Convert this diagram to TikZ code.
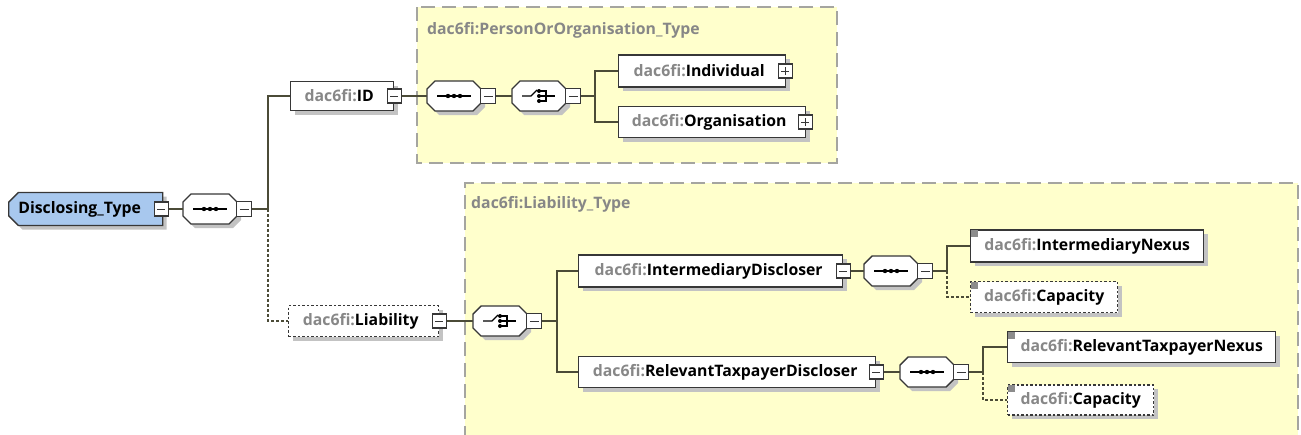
\documentclass[tikz,border=0pt]{standalone}
\usepackage{fontspec}
\setmainfont{Open Sans}
\usetikzlibrary{shapes.misc,shadows}
\definecolor{bordc}{RGB}{55,55,55}
\definecolor{connc}{RGB}{75,75,55}
\definecolor{prefc}{RGB}{135,135,135}
\definecolor{yelc}{RGB}{255,255,204}
\definecolor{ybordc}{RGB}{165,165,160}
\definecolor{bluec}{RGB}{168,200,238}
\definecolor{shadc}{RGB}{195,195,195}
\definecolor{iconc}{RGB}{140,140,140}
\newcommand\pfx{\color{prefc}}
\newcommand\nme{\color{black}}
\tikzset{
  shad/.style={drop shadow={shadow xshift=4pt,shadow yshift=-4pt,fill=shadc,opacity=1}},
  elem/.style={draw=bordc,fill=white,line width=1.4pt,minimum height=31,inner sep=0,anchor=west,shad},
  optelem/.style={elem,dash pattern=on 2.5pt off 2pt},
  root/.style={chamfered rectangle,chamfered rectangle corners={north west,south west},
    chamfered rectangle xsep=6pt,draw=bordc,fill=bluec,line width=1.4pt,
    minimum width=154,minimum height=33,inner sep=0,anchor=west,shad},
  octpath/.style={insert path={++(-19,-15) -- ++(38,0) -- ++(8,8) -- ++(0,14) -- ++(-8,8) -- ++(-38,0) -- ++(-8,-8) -- ++(0,-14) -- cycle}},
  octdraw/.style={draw=bordc,fill=white,line width=1.4pt},
  octshadow/.style={fill=shadc},
  comp/.style={minimum width=54,minimum height=30,inner sep=0},
  seqc/.style={comp,path picture={
    \draw[line width=1.1pt,black] ([xshift=-17pt]path picture bounding box.center) -- ([xshift=17pt]path picture bounding box.center);
    \fill[black] ([xshift=-6pt]path picture bounding box.center) circle (2.2pt)
      (path picture bounding box.center) circle (2.2pt)
      ([xshift=6pt]path picture bounding box.center) circle (2.2pt);}},
  choicec/.style={comp,path picture={
    \draw[line width=1.1pt,black] ([xshift=-17pt]path picture bounding box.center) -- ([xshift=-8pt]path picture bounding box.center)
      -- ([xshift=-2pt,yshift=6pt]path picture bounding box.center);
    \draw[line width=1.1pt,black] ([xshift=1pt,yshift=5pt]path picture bounding box.center) -- ([xshift=7pt,yshift=5pt]path picture bounding box.center)
      -- ([xshift=7pt,yshift=-5pt]path picture bounding box.center) -- ([xshift=1pt,yshift=-5pt]path picture bounding box.center);
    \draw[line width=1.1pt,black] ([xshift=1pt]path picture bounding box.center) -- ([xshift=16pt]path picture bounding box.center);
    \fill[black] ([yshift=5pt]path picture bounding box.center) circle (2pt)
      (path picture bounding box.center) circle (2pt)
      ([yshift=-5pt]path picture bounding box.center) circle (2pt);}},
  mbox/.style={draw=bordc,fill=white,line width=1.2pt,minimum size=14,inner sep=0,
    path picture={\draw[bordc,line width=1pt] ([xshift=3pt]path picture bounding box.west) -- ([xshift=-3pt]path picture bounding box.east);}},
  pbox/.style={mbox,path picture={\draw[bordc,line width=1pt] ([xshift=3pt]path picture bounding box.west) -- ([xshift=-3pt]path picture bounding box.east)
      ([yshift=3pt]path picture bounding box.south) -- ([yshift=-3pt]path picture bounding box.north);}},
  conn/.style={draw=connc,line width=1.5pt},
  optconn/.style={conn,dash pattern=on 2.5pt off 2.5pt},
  ybox/.style={fill=yelc,draw=ybordc,line width=1.3pt,dash pattern=on 14pt off 7pt},
  ytitle/.style={anchor=west,text=prefc,inner sep=0,font=\fontsize{15.8}{19}\selectfont\bfseries},
  sicon/.style={fill=iconc}
}
\newcommand\compo[4]{%
  \path[octshadow] (#2+4,#3+4) [octpath];
  \path[octdraw] (#2,#3) [octpath];
  \node[#4] (#1) at (#2,#3) {};}
\begin{document}
\begin{tikzpicture}[x=1pt,y=-1pt,font=\fontsize{15.8}{19}\selectfont\bfseries]
\useasboundingbox (0,0) rectangle (1301,434);
\clip (0,0) rectangle (1301,434);
% yellow type boxes
\path[ybox] (417,7) rectangle (837,163);
\fill[yelc] (465,183) rectangle (1298,440);
\draw[ybordc,line width=1.3pt,dash pattern=on 14pt off 7pt] (465,440) -- (465,183) -- (1298,183) -- (1298,440);
\node[ytitle] (ta) at (427,30) {dac6fi:PersonOrOrganisation\_Type};
\node[ytitle] (tb) at (471,204) {dac6fi:Liability\_Type};
% nodes
\node[root] (dt) at (8,209) {\hspace*{-12pt}Disclosing\_Type};
\node[mbox] (dtm) at ([xshift=-2pt]dt.east) {};
\compo{s1}{210}{209}{seqc}
\node[mbox,minimum size=15,anchor=west] (s1m) at ([xshift=-1pt]s1.east) {};
\node[elem,minimum width=103,minimum height=29] (id) at (290,96) {\pfx dac6fi:\nme ID\hspace*{6pt}};
\node[mbox] (idm) at (id.east) {};
\compo{s2}{454}{96}{seqc}
\node[mbox,minimum size=15,anchor=west] (s2m) at ([xshift=-1pt]s2.east) {};
\compo{c1}{539}{96}{choicec}
\node[mbox,minimum size=15,anchor=west] (c1m) at ([xshift=-1pt]c1.east) {};
\node[elem,minimum width=167,minimum height=32] (indiv) at (618,71) {\pfx dac6fi:\nme Individual\hspace*{6pt}};
\node[pbox] (indivp) at ([xshift=-1pt]indiv.east) {};
\node[elem,minimum width=187,minimum height=31] (org) at (618,122) {\pfx dac6fi:\nme Organisation\hspace*{6pt}};
\node[pbox] (orgp) at ([xshift=-1pt]org.east) {};
\node[optelem,minimum width=150] (liab) at (288,321) {\pfx dac6fi:\nme Liability\hspace*{6pt}};
\node[mbox] (liabm) at (liab.east) {};
\compo{c2}{500}{321}{choicec}
\node[mbox,minimum size=15,anchor=west] (c2m) at ([xshift=-1pt]c2.east) {};
\node[elem,minimum width=264,minimum height=32] (intd) at (578,271) {\pfx dac6fi:\nme IntermediaryDiscloser\hspace*{4pt}};
\node[mbox] (intdm) at (intd.east) {};
\node[elem,minimum width=297] (rtd) at (578,372) {\pfx dac6fi:\nme RelevantTaxpayerDiscloser\hspace*{4pt}};
\node[mbox] (rtdm) at (rtd.east) {};
\compo{s3}{891}{271}{seqc}
\node[mbox,minimum size=15,anchor=west] (s3m) at ([xshift=-1pt]s3.east) {};
\compo{s4}{927}{372}{seqc}
\node[mbox,minimum size=15,anchor=west] (s4m) at ([xshift=-1pt]s4.east) {};
\node[elem,minimum width=233,minimum height=32] (inx) at (970,246) {\pfx dac6fi:\nme IntermediaryNexus};
\node[optelem,minimum width=147] (cap1) at (970,297) {\pfx dac6fi:\nme Capacity};
\node[elem,minimum width=268] (rtn) at (1007,347) {\pfx dac6fi:\nme RelevantTaxpayerNexus};
\node[optelem,minimum width=146,minimum height=30] (cap2) at (1007,400) {\pfx dac6fi:\nme Capacity};
% simple-content icons
\fill[sicon] ([xshift=1pt,yshift=-1pt]inx.north west) rectangle ++(7pt,-7pt);
\fill[sicon] ([xshift=1pt,yshift=-1pt]cap1.north west) rectangle ++(7pt,-7pt);
\fill[sicon] ([xshift=1pt,yshift=-1pt]rtn.north west) rectangle ++(7pt,-7pt);
\fill[sicon] ([xshift=1pt,yshift=-1pt]cap2.north west) rectangle ++(7pt,-7pt);
% junction points
\coordinate (j1) at (268,209);
\coordinate (j2) at (595,96);
\coordinate (j3) at (557,321);
\coordinate (j4) at (947,271);
\coordinate (j5) at (983,372);
% connectors
\draw[conn] (dtm.east) -- (s1.west);
\draw[conn] (s1m.east) -- (j1);
\draw[conn] (j1) |- (id.west);
\draw[optconn] (j1) |- (liab.west);
\draw[conn] (idm.east) -- (s2.west);
\draw[conn] (s2m.east) -- (c1.west);
\draw[conn] (c1m.east) -- (j2);
\draw[conn] (j2) |- (indiv.west);
\draw[conn] (j2) |- (org.west);
\draw[conn] (liabm.east) -- (c2.west);
\draw[conn] (c2m.east) -- (j3);
\draw[conn] (j3) |- (intd.west);
\draw[conn] (j3) |- (rtd.west);
\draw[conn] (intdm.east) -- (s3.west);
\draw[conn] (s3m.east) -- (j4);
\draw[conn] (j4) |- (inx.west);
\draw[optconn] (j4) |- (cap1.west);
\draw[conn] (rtdm.east) -- (s4.west);
\draw[conn] (s4m.east) -- (j5);
\draw[conn] (j5) |- (rtn.west);
\draw[optconn] (j5) |- (cap2.west);
\end{tikzpicture}
\end{document}
